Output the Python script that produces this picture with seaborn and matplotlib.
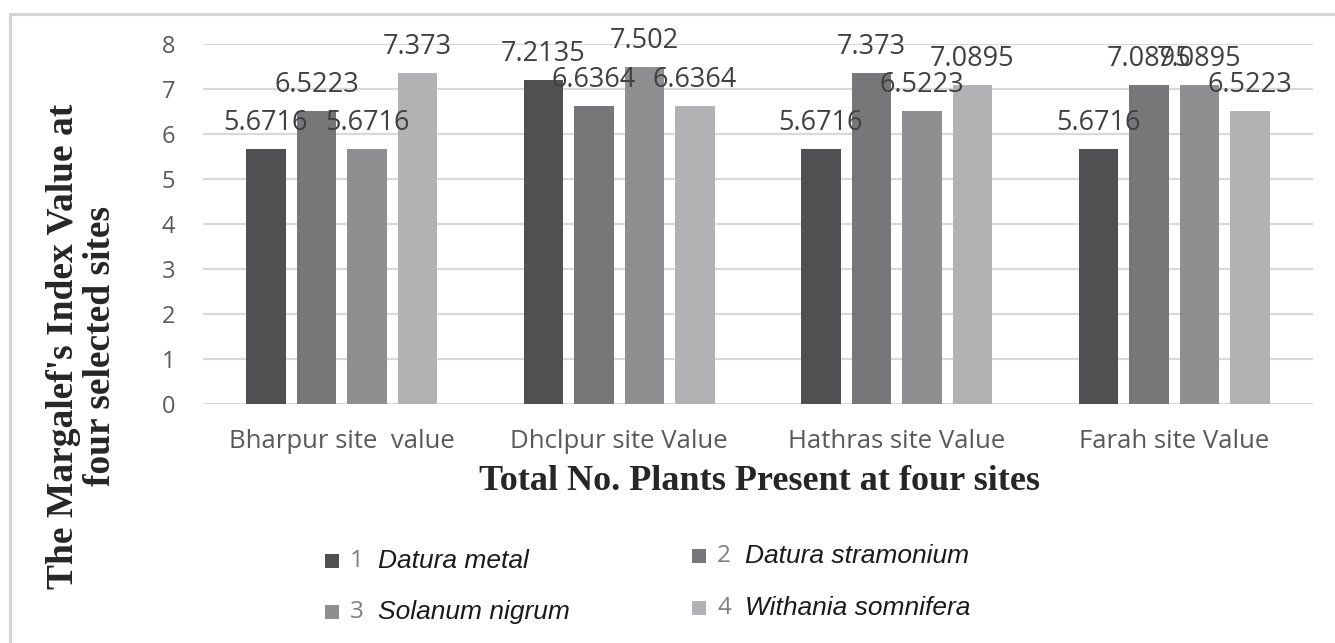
import matplotlib
matplotlib.use("Agg")
import matplotlib.pyplot as plt
from matplotlib.patches import Rectangle
from matplotlib.lines import Line2D
import seaborn as sns
import pandas as pd

# ---- data ----
sites = ["Bharpur site  value", "Dhclpur site Value", "Hathras site Value", "Farah site Value"]
species_num = ["1", "2", "3", "4"]
species_names = ["Datura metal", "Datura stramonium", "Solanum nigrum", "Withania somnifera"]
datura_metal = [5.6716, 7.2135, 5.6716, 5.6716]
datura_stramonium = [6.5223, 6.6364, 7.373, 7.0895]
solanum_nigrum = [5.6716, 7.502, 6.5223, 7.0895]
withania_somnifera = [7.373, 6.6364, 7.0895, 6.5223]
y_ticks = [0, 1, 2, 3, 4, 5, 6, 7, 8]
colors = ["#505052", "#77777a", "#8f8f92", "#b2b2b5"]

series = [datura_metal, datura_stramonium, solanum_nigrum, withania_somnifera]
rows = []
for num, vals in zip(species_num, series):
    for s, v in zip(sites, vals):
        rows.append({"site": s, "species": num, "value": v})
df = pd.DataFrame(rows)

sns.set_theme(style="white")
plt.rcParams["font.family"] = ["Open Sans", "DejaVu Sans"]

W, H = 1335, 643
fig = plt.figure(figsize=(W / 100, H / 100), dpi=100)
ax = fig.add_axes([203 / W, 1 - 404.3 / H, 1110 / W, 360 / H])

sns.barplot(data=df, x="site", y="value", hue="species", hue_order=species_num,
            order=sites, palette=colors, width=0.728, saturation=1, legend=False,
            ax=ax, zorder=3, edgecolor="none", linewidth=0)

# narrow bars leaving gaps
for bar in ax.patches:
    c = bar.get_x() + bar.get_width() / 2
    nw = bar.get_width() * 0.79
    bar.set_x(c - nw / 2)
    bar.set_width(nw)

# data labels
for cont in ax.containers:
    for bar in cont:
        v = bar.get_height()
        ax.annotate(f"{v:g}", (bar.get_x() + bar.get_width() / 2, v),
                    xytext=(0, 18.7), textcoords="offset points",
                    ha="center", va="center", fontsize=19.5, color="#404040", zorder=5)

ax.set_ylim(0, 8)
ax.set_xlim(-0.5, 3.5)
ax.set_yticks(y_ticks)
ax.set_yticklabels([str(t) for t in y_ticks])
ax.yaxis.grid(True, color="#d9d9d9", linewidth=1.6, zorder=0)
ax.xaxis.grid(False)
for sp in ax.spines.values():
    sp.set_visible(False)
ax.tick_params(axis="y", length=0, pad=20, labelsize=17, labelcolor="#595959")
ax.tick_params(axis="x", length=0, pad=18, labelsize=18.5, labelcolor="#595959")
ax.set_xlabel("")
ax.set_ylabel("")

# axis titles
fig.text(760 / W, 1 - 481 / H, "Total No. Plants Present at four sites",
         family="Liberation Serif", weight="bold", fontsize=26, color="#262626",
         ha="center", va="center")
fig.text(82 / W, 1 - 346 / H, "The Margalef's Index Value at\nfour selected sites",
         family="Liberation Serif", weight="bold", fontsize=27, color="#262626",
         ha="center", va="center", rotation=90, multialignment="center", linespacing=1.05)

# legend (manual)
leg_pos = [(325, 561), (692, 556), (325, 612), (692, 608)]
for i, (px, py) in enumerate(leg_pos):
    fig.add_artist(Rectangle((px / W, 1 - (py + 7) / H), 14 / W, 14 / H,
                             transform=fig.transFigure, color=colors[i], lw=0))
    fig.text((px + 25) / W, 1 - py / H, species_num[i], fontsize=17.5, color="#7f7f7f",
             ha="left", va="center")
    fig.text((px + 53) / W, 1 - py / H, species_names[i], family="Liberation Sans",
             style="italic", fontsize=19, color="#1a1a1a", ha="left", va="center")

# chart border (top and left visible)
fig.add_artist(Line2D([9.5 / W, 1], [1 - 13.5 / H, 1 - 13.5 / H], transform=fig.transFigure,
                      color="#d4d4d4", lw=2.2))
fig.add_artist(Line2D([9.5 / W, 9.5 / W], [0, 1 - 13.5 / H], transform=fig.transFigure,
                      color="#d4d4d4", lw=2.2))

fig.savefig("out.png", dpi=100)
